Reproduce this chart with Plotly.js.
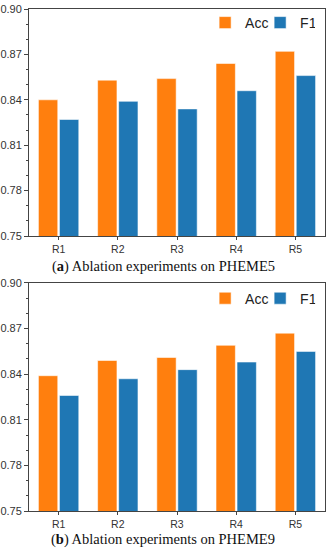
<!DOCTYPE html>
<html>
<head>
<meta charset="utf-8">
<script src="https://cdn.plot.ly/plotly-3.0.1.min.js"></script>
<style>html,body{margin:0;padding:0;background:#fff;}#chart{width:329px;height:550px;}</style>
</head>
<body>
<div id="chart"></div>
<script>
const categories = ["R1", "R2", "R3", "R4", "R5"];
const pheme5Acc = [0.840, 0.853, 0.854, 0.864, 0.872];
const pheme5F1  = [0.827, 0.839, 0.834, 0.846, 0.856];
const pheme9Acc = [0.839, 0.849, 0.851, 0.859, 0.867];
const pheme9F1  = [0.826, 0.837, 0.843, 0.848, 0.855];
const yTicks = [0.75, 0.78, 0.81, 0.84, 0.87, 0.90];
const yTickText = ["0.75", "0.78", "0.81", "0.84", "0.87", "0.90"];
const captions = ["(<b>a</b>) Ablation experiments on PHEME5", "(<b>b</b>) Ablation experiments on PHEME9"];

const ORANGE = "#ff7f0e", BLUE = "#1f77b4";
const barLine = {color: "rgba(255,255,255,0.55)", width: 1};

const traces = [
  {type: "bar", name: "Acc", x: categories, y: pheme5Acc, xaxis: "x", yaxis: "y", marker: {color: ORANGE, line: barLine}, legend: "legend"},
  {type: "bar", name: "F1", x: categories, y: pheme5F1, xaxis: "x", yaxis: "y", marker: {color: BLUE, line: barLine}, legend: "legend"},
  {type: "bar", name: "Acc", x: categories, y: pheme9Acc, xaxis: "x2", yaxis: "y2", marker: {color: ORANGE, line: barLine}, legend: "legend2"},
  {type: "bar", name: "F1", x: categories, y: pheme9F1, xaxis: "x2", yaxis: "y2", marker: {color: BLUE, line: barLine}, legend: "legend2"}
];

const axisFont = {family: "Liberation Sans, Arial, sans-serif", size: 11, color: "#333"};
function yAxis(domain, anchor) {
  return {
    domain: domain, anchor: anchor, range: [0.75, 0.90], tickvals: yTicks, ticktext: yTickText,
    ticks: "outside", ticklen: 4, tickwidth: 1, tickcolor: "#444",
    minor: {dtick: 0.01, tick0: 0.75, ticks: "outside", ticklen: 2, tickwidth: 1, tickcolor: "#444", showgrid: false},
    showline: true, linecolor: "#444", linewidth: 1, mirror: true, showgrid: false, zeroline: false,
    tickfont: axisFont, fixedrange: true
  };
}
function xAxis(anchor) {
  return {
    anchor: anchor, domain: [0, 1], range: [-0.5, 4.5], type: "category",
    ticks: "outside", ticklen: 3, tickwidth: 1, tickcolor: "#444",
    showline: true, linecolor: "#444", linewidth: 1, mirror: true, showgrid: false,
    tickfont: {family: "Liberation Sans, Arial, sans-serif", size: 10.5, color: "#333"}, fixedrange: true
  };
}
function legendCfg(y) {
  return {orientation: "h", x: 0.595, xanchor: "left", y: y, yanchor: "top",
    font: {family: "Liberation Sans, Arial, sans-serif", size: 14, color: "#222"},
    bgcolor: "rgba(0,0,0,0)", itemwidth: 30, entrywidth: 10, entrywidthmode: "pixels", traceorder: "normal"};
}

const layout = {
  width: 329, height: 550,
  margin: {l: 29, r: 4, t: 9, b: 39},
  paper_bgcolor: "#fff", plot_bgcolor: "#fff",
  barmode: "group", bargap: 0.29, bargroupgap: 0.08,
  showlegend: true,
  xaxis: xAxis("y"),
  yaxis: yAxis([0.5478, 1.0], "x"),
  xaxis2: xAxis("y2"),
  yaxis2: yAxis([0, 0.4542], "x2"),
  legend: legendCfg(1.004),
  legend2: legendCfg(0.455),
  annotations: [
    {text: captions[0], xref: "paper", yref: "paper", x: 0.454, y: 0.4867, xanchor: "center", yanchor: "middle", showarrow: false,
     font: {family: "Liberation Serif, Times New Roman, serif", size: 14.5, color: "#111"}},
    {text: captions[1], xref: "paper", yref: "paper", x: 0.454, y: -0.0558, xanchor: "center", yanchor: "middle", showarrow: false,
     font: {family: "Liberation Serif, Times New Roman, serif", size: 14.5, color: "#111"}}
  ]
};

Plotly.newPlot("chart", traces, layout, {displayModeBar: false, staticPlot: true});
</script>
</body>
</html>
